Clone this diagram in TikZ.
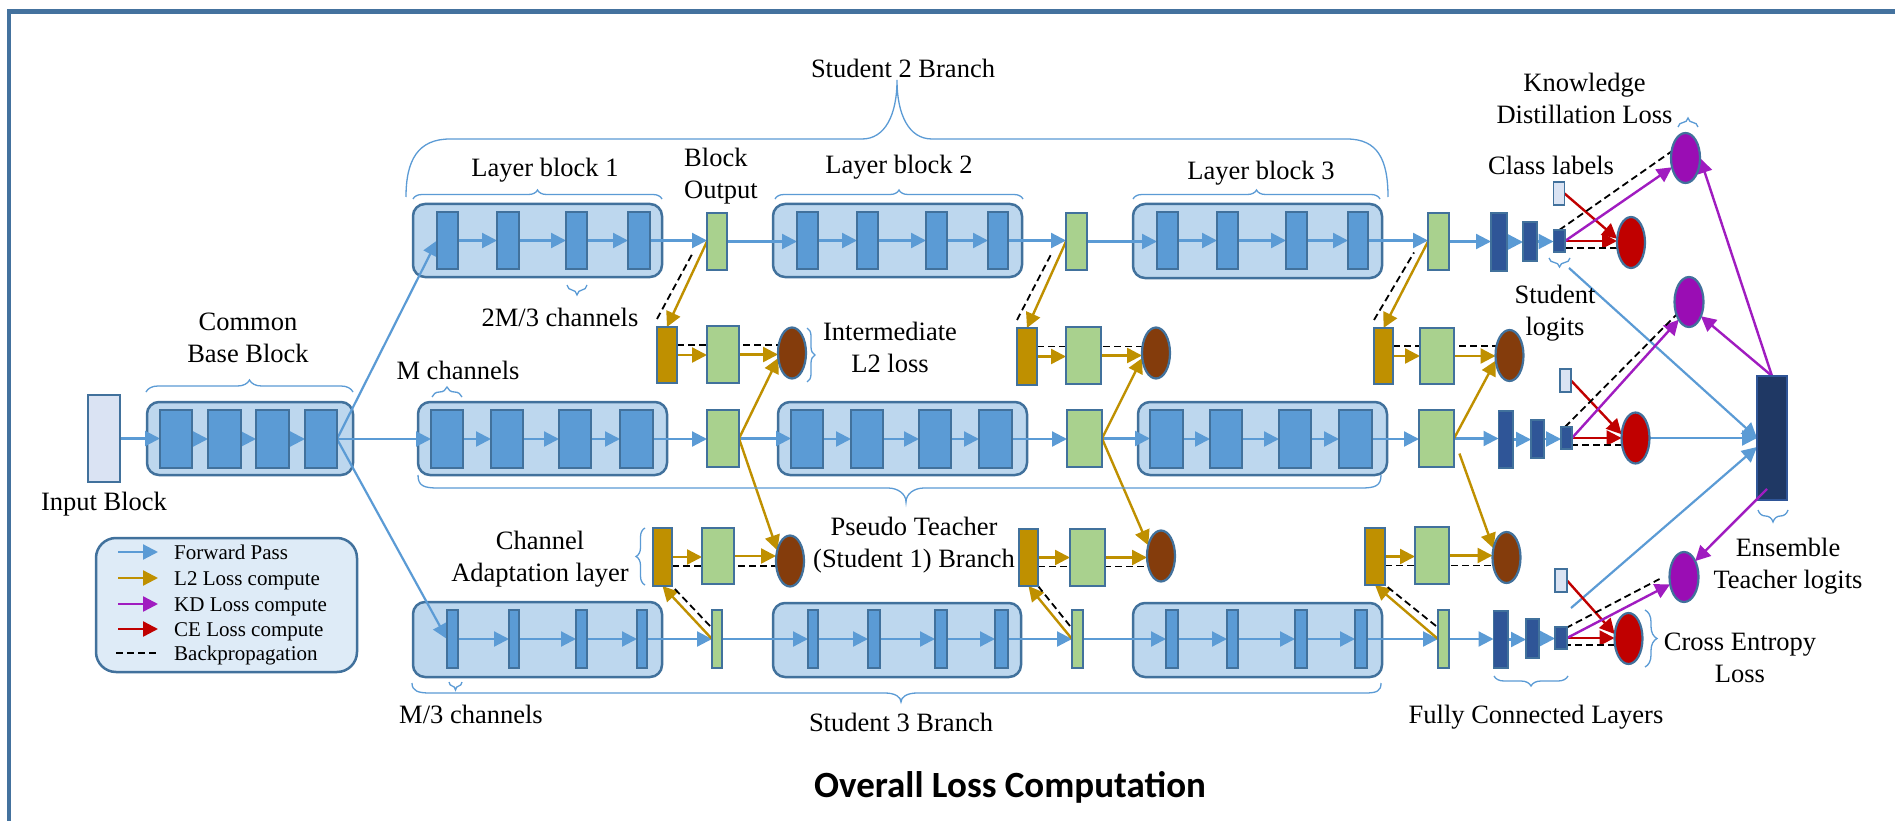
\documentclass[tikz,border=0pt]{standalone}
\usepackage{fontspec}
\setmainfont{Liberation Serif}
\newfontfamily\titlefont{Carlito}
\usetikzlibrary{arrows.meta,shapes.geometric,decorations.pathreplacing,calc}
\pgfdeclarelayer{bg}\pgfdeclarelayer{fg}\pgfsetlayers{bg,main,fg}

\definecolor{edgeblue}{HTML}{41719C}
\definecolor{cellblue}{HTML}{5B9BD5}
\definecolor{layerfill}{HTML}{BDD7EE}
\definecolor{greenfill}{HTML}{A9D18E}
\definecolor{goldfill}{HTML}{BF9000}
\definecolor{brownfill}{HTML}{843C0C}
\definecolor{redfill}{HTML}{C00000}
\definecolor{purplefill}{HTML}{9A0DB4}
\definecolor{kdline}{HTML}{A01CC0}
\definecolor{fcfill}{HTML}{2F5597}
\definecolor{ensfill}{HTML}{1F3864}
\definecolor{labelfill}{HTML}{DAE3F3}
\definecolor{legendfill}{HTML}{DEEBF7}
\definecolor{flowblue}{HTML}{5B9BD5}
\definecolor{goldline}{HTML}{BF9000}
\definecolor{redline}{HTML}{C00000}
\definecolor{framecol}{HTML}{44729E}

% rectangle node from its two corners: style, name, x1, y1, x2, y2
\newcommand{\mkcell}[6]{\node[#1, minimum width={(#5)-(#3)}, minimum height={(#6)-(#4)}] (#2) at ({((#3)+(#5))/2},{((#4)+(#6))/2}) {};}

\tikzset{
  cell/.style={rectangle, draw=edgeblue, line width=1.8pt, fill=cellblue, inner sep=0pt, outer sep=0pt},
  outbox/.style={cell, fill=greenfill},
  adapt/.style={cell, fill=goldfill},
  fcbox/.style={cell, fill=fcfill},
  lblbox/.style={cell, fill=labelfill},
  ensbox/.style={cell, fill=ensfill, draw=fcfill},
  layerbox/.style={draw=edgeblue, line width=2.5pt, fill=layerfill, rounded corners=12pt},
  lossnode/.style={ellipse, draw=edgeblue, line width=2.2pt, inner sep=0pt, outer sep=0pt, minimum width=28pt, minimum height=51pt},
  l2loss/.style={lossnode, fill=brownfill},
  celoss/.style={lossnode, fill=redfill},
  kdloss/.style={lossnode, fill=purplefill, minimum width=29pt, minimum height=50pt},
  tipT/.style={-{Triangle[length=15pt,width=15pt]}},
  fwd/.style={draw=flowblue, line width=2.2pt, tipT},
  l2/.style={draw=goldline, line width=2.4pt, tipT},
  ce/.style={draw=redline, line width=2.4pt, tipT},
  kd/.style={draw=kdline, line width=2.4pt, tipT},
  bp/.style={draw=black, line width=1.8pt, dash pattern=on 7pt off 4pt},
  brc/.style={draw=flowblue, line width=1.3pt, decorate, decoration={brace, amplitude=#1}},
  brcline/.style={draw=flowblue, line width=1.3pt},
  lbl/.style={font=\fontsize{26.5}{32}\selectfont, align=center, inner sep=0pt},
  leg/.style={font=\fontsize{21}{25}\selectfont, inner sep=0pt},
}

\begin{document}
\begin{tikzpicture}[x=1pt,y=-1pt]
\useasboundingbox (0,0) rectangle (1895,821);

\begin{pgfonlayer}{bg}
  \fill[white] (0,0) rectangle (1895,821);
  % block containers
  \draw[layerbox] (147,402) rectangle (353,475);
  \draw[layerbox] (413,204) rectangle (662,277);
  \draw[layerbox] (773,204) rectangle (1022,277);
  \draw[layerbox] (1133,204) rectangle (1382,278);
  \draw[layerbox] (418,402) rectangle (667,475);
  \draw[layerbox] (778,402) rectangle (1027,475);
  \draw[layerbox] (1138,402) rectangle (1387,475);
  \draw[layerbox] (413,602) rectangle (662,677);
  \draw[layerbox] (773,603) rectangle (1021,677);
  \draw[layerbox] (1133,603) rectangle (1382,677);
  % legend panel
  \draw[draw=edgeblue, line width=2.5pt, fill=legendfill, rounded corners=20pt] (96,538) rectangle (357,672);
\end{pgfonlayer}

\begin{pgfonlayer}{fg}
  % input and common base
  \mkcell{lblbox}{inp}{88}{395}{120}{482}
  \mkcell{cell}{base1}{160}{410}{192}{468}
  \mkcell{cell}{base2}{208}{410}{241}{468}
  \mkcell{cell}{base3}{256}{410}{289}{468}
  \mkcell{cell}{base4}{305}{410}{337}{468}
  % student 2 row
  \mkcell{cell}{r1c1}{437}{212}{458}{269}
  \mkcell{cell}{r1c2}{497}{212}{519}{269}
  \mkcell{cell}{r1c3}{566}{212}{587}{269}
  \mkcell{cell}{r1c4}{628}{212}{650}{269}
  \mkcell{cell}{r1c5}{797}{212}{818}{269}
  \mkcell{cell}{r1c6}{857}{212}{878}{269}
  \mkcell{cell}{r1c7}{926}{212}{947}{269}
  \mkcell{cell}{r1c8}{988}{212}{1008}{269}
  \mkcell{cell}{r1c9}{1157}{212}{1178}{269}
  \mkcell{cell}{r1c10}{1217}{212}{1238}{269}
  \mkcell{cell}{r1c11}{1286}{212}{1307}{269}
  \mkcell{cell}{r1c12}{1348}{212}{1368}{269}
  \mkcell{outbox}{r1o1}{707}{213}{727}{270}
  \mkcell{outbox}{r1o2}{1066}{213}{1087}{270}
  \mkcell{outbox}{r1o3}{1428}{213}{1449}{270}
  % pseudo teacher row
  \mkcell{cell}{r2c1}{431}{410}{463}{468}
  \mkcell{cell}{r2c2}{491}{410}{523}{468}
  \mkcell{cell}{r2c3}{559}{410}{591}{468}
  \mkcell{cell}{r2c4}{620}{410}{653}{468}
  \mkcell{cell}{r2c5}{791}{410}{823}{468}
  \mkcell{cell}{r2c6}{851}{410}{883}{468}
  \mkcell{cell}{r2c7}{919}{410}{951}{468}
  \mkcell{cell}{r2c8}{979}{410}{1012}{468}
  \mkcell{cell}{r2c9}{1150}{410}{1183}{468}
  \mkcell{cell}{r2c10}{1210}{410}{1242}{468}
  \mkcell{cell}{r2c11}{1279}{410}{1311}{468}
  \mkcell{cell}{r2c12}{1339}{410}{1372}{468}
  \mkcell{outbox}{r2o1}{707}{410}{739}{467}
  \mkcell{outbox}{r2o2}{1067}{410}{1102}{467}
  \mkcell{outbox}{r2o3}{1419}{410}{1454}{467}
  % student 3 row
  \mkcell{cell}{r3c1}{447}{610}{458}{668}
  \mkcell{cell}{r3c2}{509}{610}{519}{668}
  \mkcell{cell}{r3c3}{576}{610}{587}{668}
  \mkcell{cell}{r3c4}{637}{610}{647}{668}
  \mkcell{cell}{r3c5}{808}{610}{818}{668}
  \mkcell{cell}{r3c6}{868}{610}{880}{668}
  \mkcell{cell}{r3c7}{935}{610}{947}{668}
  \mkcell{cell}{r3c8}{995}{610}{1008}{668}
  \mkcell{cell}{r3c9}{1166}{610}{1178}{668}
  \mkcell{cell}{r3c10}{1227}{610}{1238}{668}
  \mkcell{cell}{r3c11}{1295}{610}{1307}{668}
  \mkcell{cell}{r3c12}{1355}{610}{1367}{668}
  \mkcell{outbox}{r3o1}{712}{610}{722}{668}
  \mkcell{outbox}{r3o2}{1072}{610}{1083}{668}
  \mkcell{outbox}{r3o3}{1438}{610}{1449}{668}
  % channel adaptation, upper
  \mkcell{adapt}{ua1g}{657}{327}{677}{383}
  \mkcell{outbox}{ua1n}{707}{326}{739}{383}
  \node[l2loss] (ua1e) at (792,353) {};
  \mkcell{adapt}{ua2g}{1017}{328}{1037}{385}
  \mkcell{outbox}{ua2n}{1066}{327}{1101}{384}
  \node[l2loss] (ua2e) at (1156,353) {};
  \mkcell{adapt}{ua3g}{1374}{328}{1393}{384}
  \mkcell{outbox}{ua3n}{1420}{328}{1454}{384}
  \node[l2loss] (ua3e) at (1509.5,355.5) {};
  % channel adaptation, lower
  \mkcell{adapt}{la1g}{653}{528}{672}{586}
  \mkcell{outbox}{la1n}{702}{528}{734}{584}
  \node[l2loss] (la1e) at (790,561) {};
  \mkcell{adapt}{la2g}{1019}{529}{1038}{586}
  \mkcell{outbox}{la2n}{1070}{529}{1105}{586}
  \node[l2loss] (la2e) at (1161,556) {};
  \mkcell{adapt}{la3g}{1365}{528}{1385}{585}
  \mkcell{outbox}{la3n}{1415}{527}{1449}{584}
  \node[l2loss] (la3e) at (1506.5,557.5) {};
  % fully connected heads, labels, losses
  \mkcell{fcbox}{f1a}{1491}{213}{1507}{271}
  \mkcell{fcbox}{f1b}{1523}{222}{1537}{261}
  \mkcell{fcbox}{f1c}{1553.5}{230}{1565}{252}
  \mkcell{lblbox}{c1}{1553.5}{182}{1564.5}{205}
  \mkcell{fcbox}{f2a}{1498.5}{411}{1513}{468}
  \mkcell{fcbox}{f2b}{1531}{420}{1544}{458}
  \mkcell{fcbox}{f2c}{1561}{427}{1572}{449}
  \mkcell{lblbox}{c2}{1560}{369}{1571}{392}
  \mkcell{fcbox}{f3a}{1493.5}{611}{1508}{668}
  \mkcell{fcbox}{f3b}{1526}{619}{1539}{658}
  \mkcell{fcbox}{f3c}{1555}{627}{1567}{649}
  \mkcell{lblbox}{c3}{1555}{569}{1567}{592}
  \node[celoss] (e1r) at (1631,242.5) {};
  \node[celoss] (e2r) at (1635.5,438) {};
  \node[celoss] (e3r) at (1628.5,638.5) {};
  \node[kdloss] (p1) at (1685.5,158) {};
  \node[kdloss] (p2) at (1689,302) {};
  \node[kdloss] (p3) at (1684,577) {};
  \mkcell{ensbox}{ens}{1757}{376}{1787}{500}
  \coordinate (ensb) at (1767,489);
  \draw[kd] (ensb) -- (p3.55);
\end{pgfonlayer}

% forward pass
\foreach \a/\b in {inp/base1, base1/base2, base2/base3, base3/base4}
  \draw[fwd] (\a.east) -- (\a.east -| \b.west);
\draw[fwd] (base4.east) -- (r1c1.west);
\draw[fwd] (base4.east) -- (base4.east -| r2c1.west);
\draw[fwd] (base4.east) -- (r3c1.west);
\foreach \rw in {1,2,3} {
  \foreach \a/\b in {c1/c2, c2/c3, c3/c4, c4/o1, o1/c5, c5/c6, c6/c7, c7/c8, c8/o2, o2/c9, c9/c10, c10/c11, c11/c12, c12/o3}
    \draw[fwd] (r\rw\a.east) -- (r\rw\a.east -| r\rw\b.west);
  \draw[fwd] (r\rw o3.east) -- (r\rw o3.east -| f\rw a.west);
  \draw[fwd] (f\rw a.east) -- (f\rw a.east -| f\rw b.west);
  \draw[fwd] (f\rw b.east) -- (f\rw b.east -| f\rw c.west);
}
% logits into the ensemble
\coordinate (s1t) at (1569,268);
\coordinate (s3t) at (1571,608);
\draw[fwd] (s1t) -- (ens.west);
\draw[fwd] (f2c.east) -- (f2c.east -| ens.west);
\draw[fwd] (s3t) -- ($(ens.west)+(0,9)$);

% intermediate L2 losses
\foreach \st in {1,2,3} {
  \draw[l2] (r1o\st.west) -- (ua\st g.north);
  \draw[bp] ($(ua\st g.north west)+(0,-8)$) -- ($(r1o\st.west)+(-14,11)$);
  \draw[l2] (ua\st g.east) -- (ua\st g.east -| ua\st n.west);
  \draw[l2] (ua\st n.east) -- (ua\st n.east -| ua\st e.west);
  \coordinate (ut\st) at ($(ua\st g.east)+(0,-10)$);
  \draw[bp] (ut\st) -- (ut\st -| ua\st e.west);
  \draw[l2] (r2o\st.east) -- (ua\st e.200);
  \draw[l2] (r3o\st.west) -- (la\st g.south);
  \draw[bp] ($(r3o\st.west)+(-2,-13)$) -- (la\st g.south east);
  \draw[l2] (la\st g.east) -- (la\st g.east -| la\st n.west);
  \draw[l2] (la\st n.east) -- (la\st n.east -| la\st e.west);
  \coordinate (lt\st) at ($(la\st g.east)+(0,9)$);
  \draw[bp] (lt\st) -- (lt\st -| la\st e.west);
}
\draw[l2] (r2o1.east) -- (la1e.140);
\draw[l2] (r2o2.east) -- (la2e.140);
\draw[l2, shorten <=16pt] (r2o3.east) -- (la3e.145);

% cross entropy losses
\draw[ce] (c1.east) -- (e1r.165);
\draw[ce] (c2.east) -- (e2r.165);
\draw[ce] (c3.east) -- (e3r.162);
\foreach \rw in {1,2,3} {
  \draw[ce] (f\rw c.east) -- (f\rw c.east -| e\rw r.west);
  \coordinate (ct\rw) at ($(f\rw c.east)+(0,7)$);
  \draw[bp] (ct\rw -| e\rw r.west) -- (ct\rw);
}

% knowledge distillation losses
\draw[kd] (f1c.east) -- (p1);
\draw[bp] (f1c.north) -- (p1.155);
\draw[kd] (f2c.east) -- (p2.240);
\draw[bp] ($(f2c.north west)+(4,0)$) -- (p2.225);
\draw[kd] (f3c.east) -- (p3);
\draw[bp] ($(f3c.north east)+(-1,1)$) -- ($(p3.west)+(-10,2)$);
\draw[kd] (ens.north) -- (p1.east);
\draw[kd] (ens.north) -- (p2.310);

% braces
\draw[brc=12] (146,392) -- (353,392);
\draw[brc=9] (413,199) -- (662,199);
\draw[brc=9] (775,199) -- (1023,199);
\draw[brc=9] (1133,199) -- (1380,199);
\draw[brc=10] (587,285) -- (567,285);
\draw[brc=10] (432,397) -- (462,397);
\draw[brc=8] (462,682) -- (449,682);
\draw[brc=9] (1678,127) -- (1698,127);
\draw[brc=9] (1570,258) -- (1549,258);
\draw[brc=8] (807,328) -- (807,382);
\draw[brc=9] (645,585) -- (645,528);
\draw[brc=10] (1568,676) -- (1494,676);
\draw[brc=12] (1645,610) -- (1645,667);
\draw[brc=12] (1788,510) -- (1758,510);
\draw[brcline] (406,197) .. controls (406,160) and (418,139) .. (450,139) -- (862,139)
  .. controls (885,139) and (897,115) .. (897,80) .. controls (897,115) and (909,139) .. (932,139)
  -- (1347,139) .. controls (1378,139) and (1388,160) .. (1388,197);
\draw[brcline] (418,475) .. controls (418,486) and (424,488) .. (438,488) -- (888,488)
  .. controls (898,488) and (906,494) .. (906,502) .. controls (906,494) and (914,488) .. (924,488)
  -- (1361,488) .. controls (1375,488) and (1381,486) .. (1381,475);
\draw[brcline] (412,683) .. controls (412,691) and (418,693) .. (430,693) -- (885,693)
  .. controls (895,693) and (901,697) .. (901,702) .. controls (901,697) and (907,693) .. (917,693)
  -- (1365,693) .. controls (1377,693) and (1381,691) .. (1381,683);

% labels
\node[lbl] (tInput) at (104,504) {Input Block};
\node[lbl] (tBase) at (248,338) {Common\\Base Block};
\node[lbl] (tLB1) at (545,170) {Layer block 1};
\node[lbl] (tLB2) at (899,167) {Layer block 2};
\node[lbl] (tLB3) at (1261,173) {Layer block 3};
\node[lbl, anchor=west, align=left] (tBO) at (684,176) {Block\\Output};
\node[lbl] (tS2) at (903,68) {Student 2 Branch};
\node[lbl] (t2M) at (560,317) {2M/3 channels};
\node[lbl] (tM) at (458,370) {M channels};
\node[lbl] (tIL2) at (890,347) {Intermediate\\L2 loss};
\node[lbl] (tCA) at (540,559) {Channel\\Adaptation layer};
\node[lbl] (tPT) at (914,545) {Pseudo Teacher\\(Student 1) Branch};
\node[lbl] (tM3) at (471,714) {M/3 channels};
\node[lbl] (tS3) at (901,722) {Student 3 Branch};
\node[lbl] (tFC) at (1536,717) {Fully Connected Layers};
\node[lbl] (tCL) at (1551,165) {Class labels};
\node[lbl] (tKD) at (1584.5,98) {Knowledge\\Distillation Loss};
\node[lbl] (tSL) at (1555,313) {Student\\logits};
\node[lbl] (tET) at (1788,566) {Ensemble\\Teacher logits};
\node[lbl] (tCE) at (1740,658) {Cross Entropy\\Loss};
\node[font=\titlefont\bfseries\fontsize{37}{44}\selectfont, inner sep=0pt] (tTitle) at (1010,787) {Overall Loss Computation};

% legend
\coordinate (lgA1) at (118,552); \coordinate (lgB1) at (158,552);
\coordinate (lgA2) at (118,578); \coordinate (lgB2) at (158,578);
\coordinate (lgA3) at (118,604); \coordinate (lgB3) at (158,604);
\coordinate (lgA4) at (118,629); \coordinate (lgB4) at (158,629);
\coordinate (lgA5) at (116,653); \coordinate (lgB5) at (158,653);
\draw[fwd] (lgA1) -- (lgB1);
\draw[l2] (lgA2) -- (lgB2);
\draw[kd] (lgA3) -- (lgB3);
\draw[ce] (lgA4) -- (lgB4);
\draw[bp] (lgA5) -- (lgB5);
\node[leg, anchor=base west] (lg1) at (174,559) {Forward Pass};
\node[leg, anchor=base west] (lg2) at (174,585) {L2 Loss compute};
\node[leg, anchor=base west] (lg3) at (174,611) {KD Loss compute};
\node[leg, anchor=base west] (lg4) at (174,636) {CE Loss compute};
\node[leg, anchor=base west] (lg5) at (174,660) {Backpropagation};

% frame
\draw[draw=framecol, line width=4.5pt] (9,821) -- (9,11.5) -- (1895,11.5);
\end{tikzpicture}
\end{document}
